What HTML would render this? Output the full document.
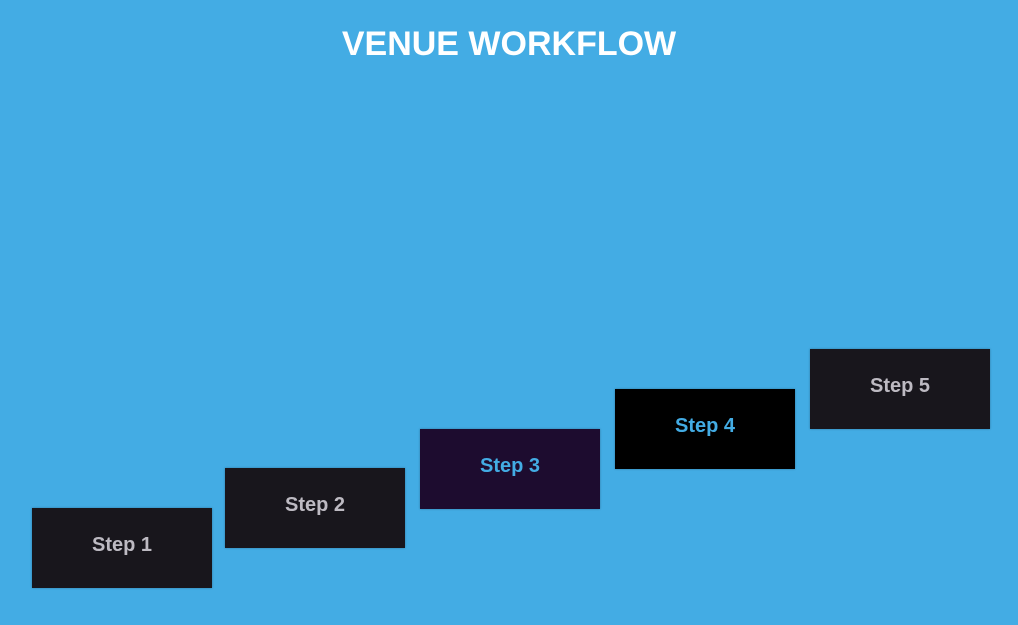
<!DOCTYPE html>
<html><head><style>
body{margin:0;width:1018px;height:625px;background:#43ace4;font-family:"Liberation Sans",sans-serif;position:relative;overflow:hidden}
h1{position:absolute;top:24px;left:0;width:1018px;margin:0;text-align:center;color:#fff;font-size:34px;font-weight:bold;line-height:40px}
.b{position:absolute;width:180px;height:80px;background:#18161c;color:#bdbac2;font-weight:bold;font-size:20px;display:flex;align-items:center;justify-content:center;box-sizing:border-box;padding-bottom:6px;box-shadow:0 0 2px rgba(0,0,0,.3)}
</style></head><body>
<h1>VENUE WORKFLOW</h1>
<div class="b" style="left:32px;top:508px">Step 1</div>
<div class="b" style="left:225px;top:468px">Step 2</div>
<div class="b" style="left:420px;top:429px;background:#1d0c2f;color:#43ace4">Step 3</div>
<div class="b" style="left:615px;top:389px;background:#000;color:#43ace4">Step 4</div>
<div class="b" style="left:810px;top:349px">Step 5</div>
</body></html>
